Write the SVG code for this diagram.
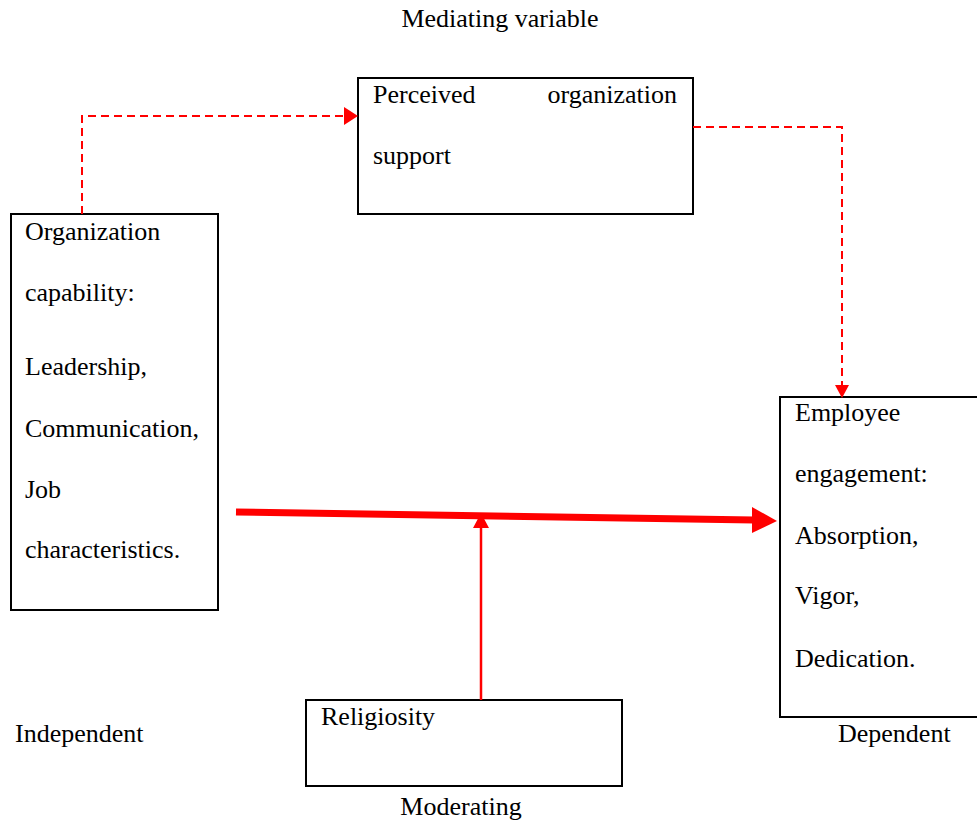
<svg xmlns="http://www.w3.org/2000/svg" width="977" height="821" viewBox="0 0 977 821">
<style>
.box{fill:#fff;stroke:#000;stroke-width:2}
text{font-family:"Liberation Serif","Times New Roman",serif;font-size:26px;fill:#000}
.dash{fill:none;stroke:#f00;stroke-width:2;stroke-dasharray:8,5}
</style>
<rect width="977" height="821" fill="#fff"/>
<g id="labels">
<text x="500" y="27" text-anchor="middle">Mediating variable</text>
<text x="15" y="742">Independent</text>
<text x="838" y="742">Dependent</text>
<text x="461" y="815" text-anchor="middle">Moderating</text>
</g>
<g id="perceived">
<rect class="box" x="358" y="78" width="335" height="136"/>
<text x="373" y="103">Perceived</text>
<text x="677" y="103" text-anchor="end">organization</text>
<text x="373" y="164">support</text>
</g>
<g id="capability">
<rect class="box" x="11" y="214" width="207" height="396"/>
<text x="25" y="240">Organization</text>
<text x="25" y="301">capability:</text>
<text x="25" y="375">Leadership,</text>
<text x="25" y="437">Communication,</text>
<text x="25" y="498">Job</text>
<text x="25" y="558">characteristics.</text>
</g>
<g id="engagement">
<rect class="box" x="780" y="397" width="200" height="320"/>
<text x="795" y="421">Employee</text>
<text x="795" y="482">engagement:</text>
<text x="795" y="544">Absorption,</text>
<text x="795" y="604">Vigor,</text>
<text x="795" y="667">Dedication.</text>
</g>
<g id="religiosity">
<rect class="box" x="306" y="700" width="316" height="86"/>
<text x="321" y="725">Religiosity</text>
</g>
<g id="connectors">
<path d="M82,214 V116 H345" class="dash"/>
<path d="M344,107 L358,116 L344,125 z" fill="#f00"/>
<path d="M693,127 H842 V386" class="dash"/>
<path d="M835,385 L842,398 L849,385 z" fill="#f00"/>
<path d="M236,512 L754,520" stroke="#f00" stroke-width="7" fill="none"/>
<path d="M752,507 L777,521 L752,533 z" fill="#f00"/>
<path d="M481,700 V525" stroke="#f00" stroke-width="2.5" fill="none"/>
<path d="M473,528 L481,513 L489,528 z" fill="#f00"/>
</g>
</svg>
